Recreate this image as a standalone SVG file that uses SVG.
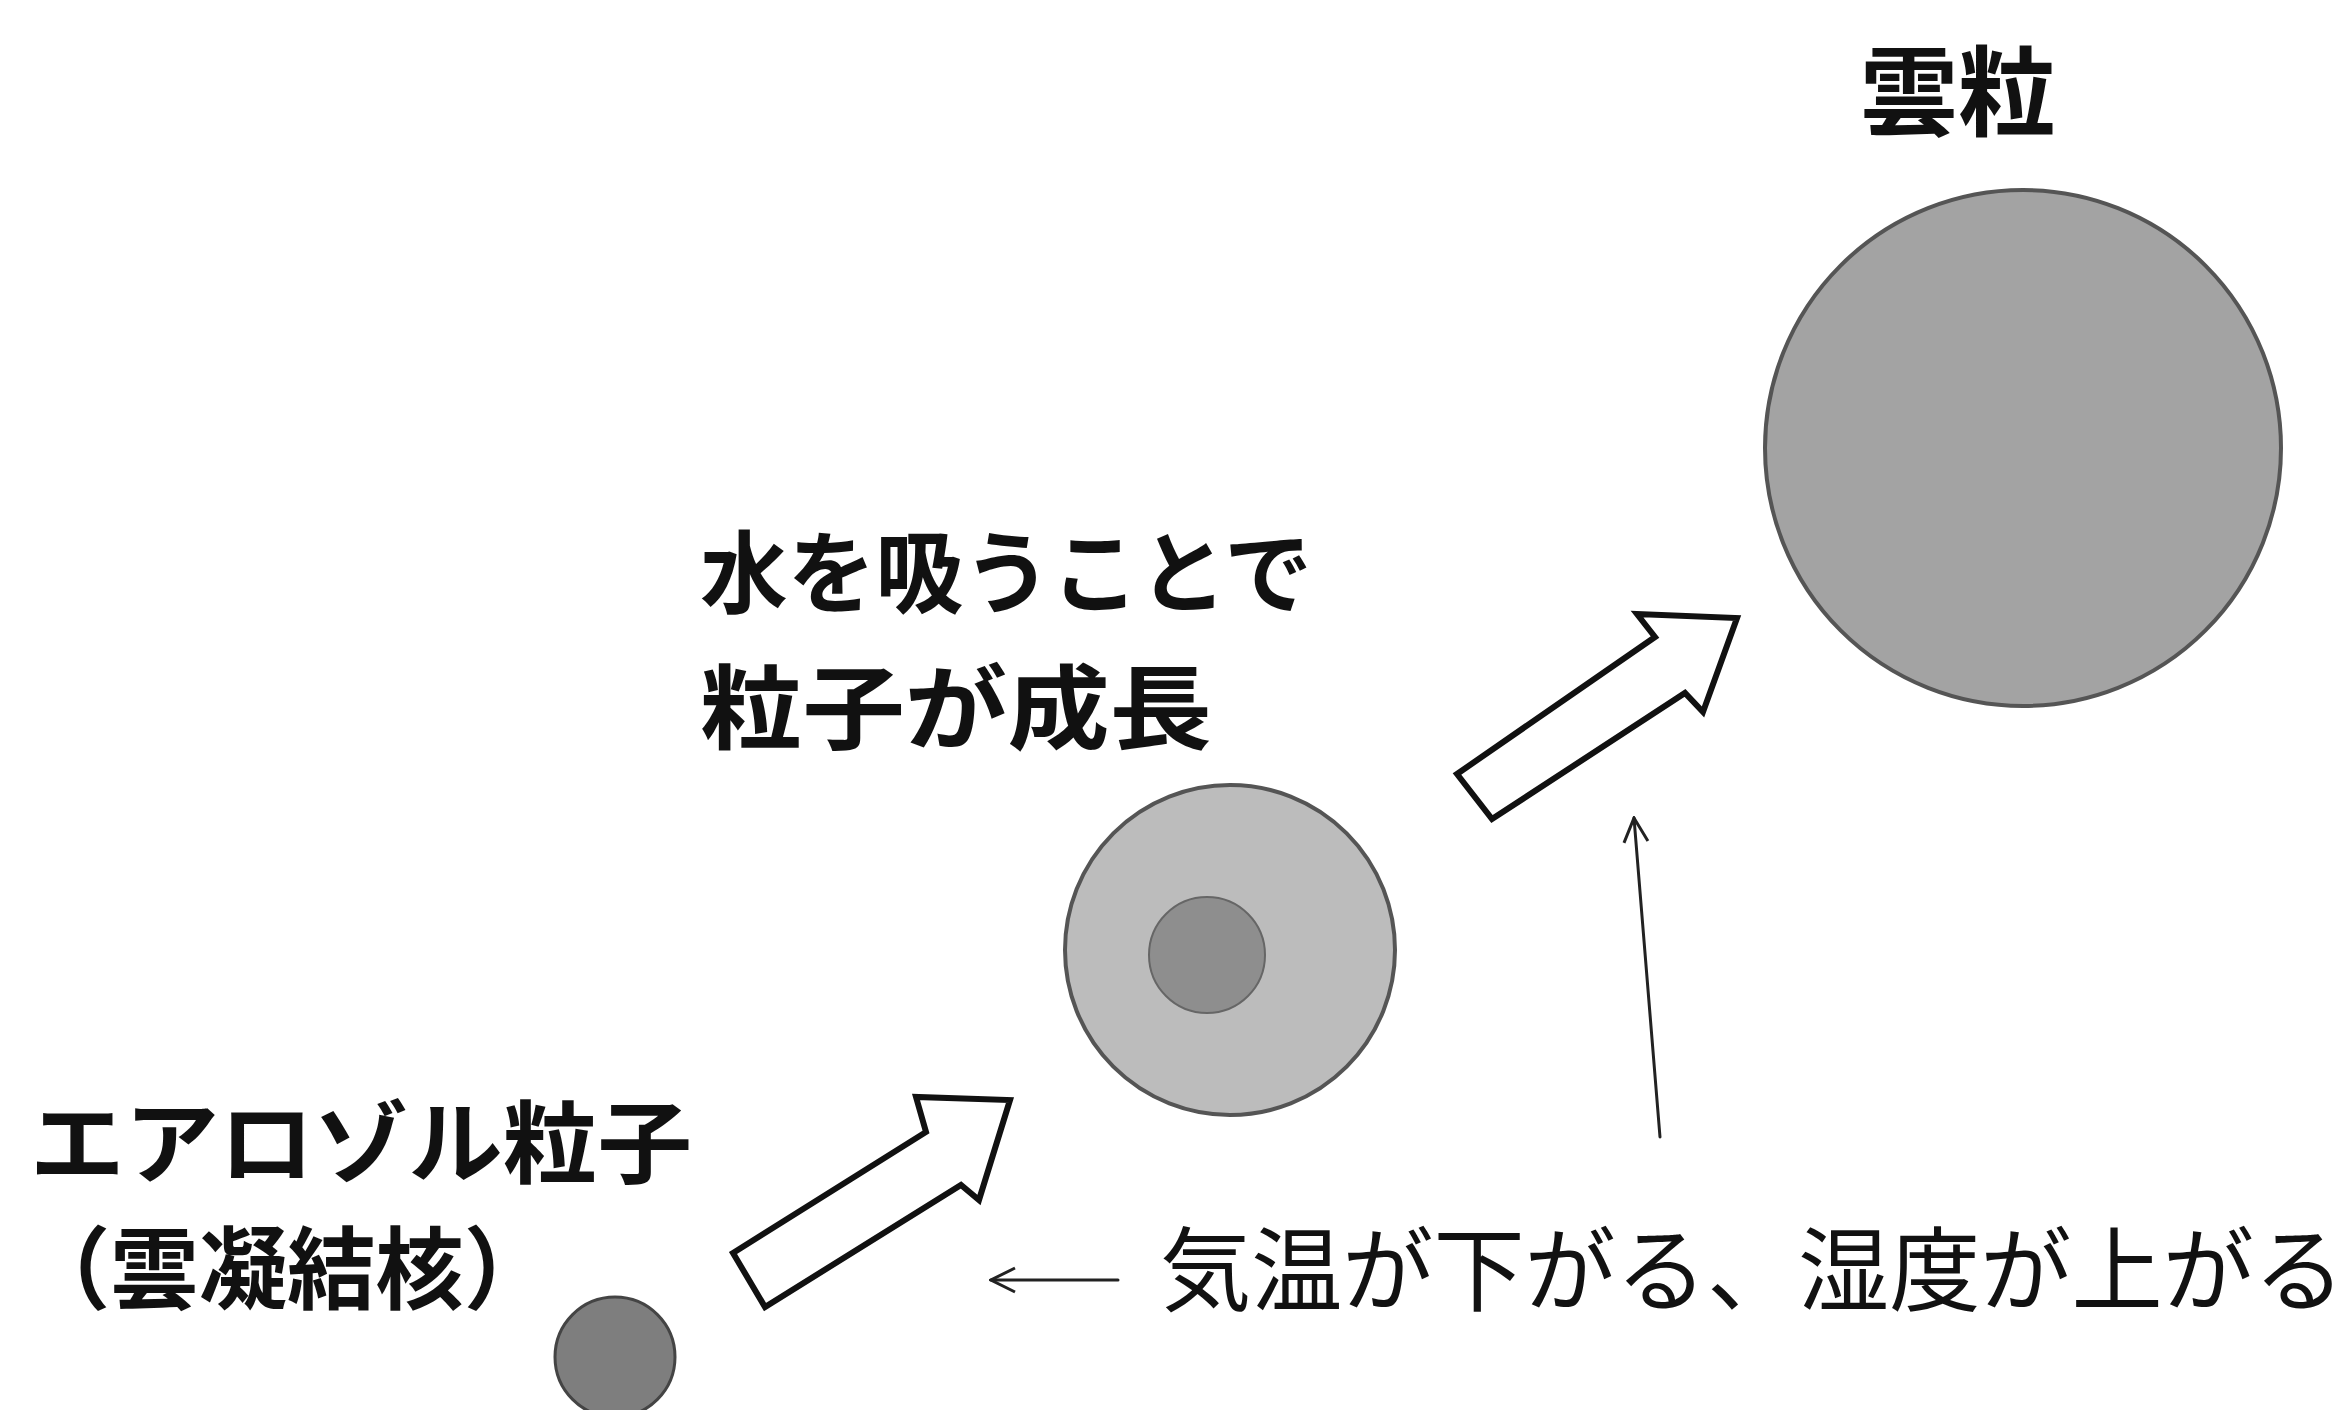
<svg xmlns="http://www.w3.org/2000/svg" width="2352" height="1410" viewBox="0 0 2352 1410">
<style>
.t{font-family:"Noto Sans CJK JP","Noto Sans CJK SC",sans-serif;fill:#111}
.b{font-weight:bold}
.big{fill:#fff;stroke:#111;stroke-width:6;stroke-linejoin:miter}
.thin{fill:none;stroke:#222;stroke-width:3;stroke-linecap:round}
</style>
<defs>
<marker id="ah" viewBox="0 0 30 30" refX="28" refY="15" markerWidth="30" markerHeight="30" markerUnits="userSpaceOnUse" orient="auto">
<path d="M4,3 L28,15 L4,27" fill="none" stroke="#222" stroke-width="3"/>
</marker>
</defs>
<rect width="2352" height="1410" fill="#fff"/>
<g id="cloud-droplet">
<circle cx="2023" cy="448" r="258" fill="#a3a3a3" stroke="#555" stroke-width="4"/>
<text class="t b" x="1860" y="128" font-size="98" textLength="196" lengthAdjust="spacingAndGlyphs">雲粒</text>
</g>
<g id="growing-particle">
<circle cx="1230" cy="950" r="165" fill="#bcbcbc" stroke="#555" stroke-width="4"/>
<circle cx="1207" cy="955" r="58" fill="#8e8e8e" stroke="#666" stroke-width="2"/>
<text class="t b" x="700" y="606" font-size="90" textLength="612" lengthAdjust="spacingAndGlyphs">水を吸うことで</text>
<text class="t b" x="700" y="742" font-size="92" textLength="512" lengthAdjust="spacingAndGlyphs">粒子が成長</text>
</g>
<g id="aerosol">
<circle cx="615" cy="1357" r="60" fill="#7e7e7e" stroke="#444" stroke-width="3"/>
<text class="t b" x="30" y="1176" font-size="90" textLength="662" lengthAdjust="spacingAndGlyphs">エアロゾル粒子</text>
<text class="t b" x="22" y="1302" font-size="90" textLength="530" lengthAdjust="spacingAndGlyphs">（雲凝結核）</text>
</g>
<g id="condition">
<text class="t" x="1160" y="1304" font-size="92" textLength="1185" lengthAdjust="spacingAndGlyphs">気温が下がる、湿度が上がる</text>
</g>
<g id="connectors">
<polygon class="big" points="733,1253 926,1132 916,1097 1010,1100 979,1200 961,1185 765,1307"/>
<polygon class="big" points="1457,774 1655,637 1637,614 1737,618 1703,712 1685,693 1492,819"/>
<line class="thin" x1="1660" y1="1137" x2="1634" y2="818" marker-end="url(#ah)"/>
<line class="thin" x1="1118" y1="1280" x2="991" y2="1280" marker-end="url(#ah)"/>
</g>
</svg>
